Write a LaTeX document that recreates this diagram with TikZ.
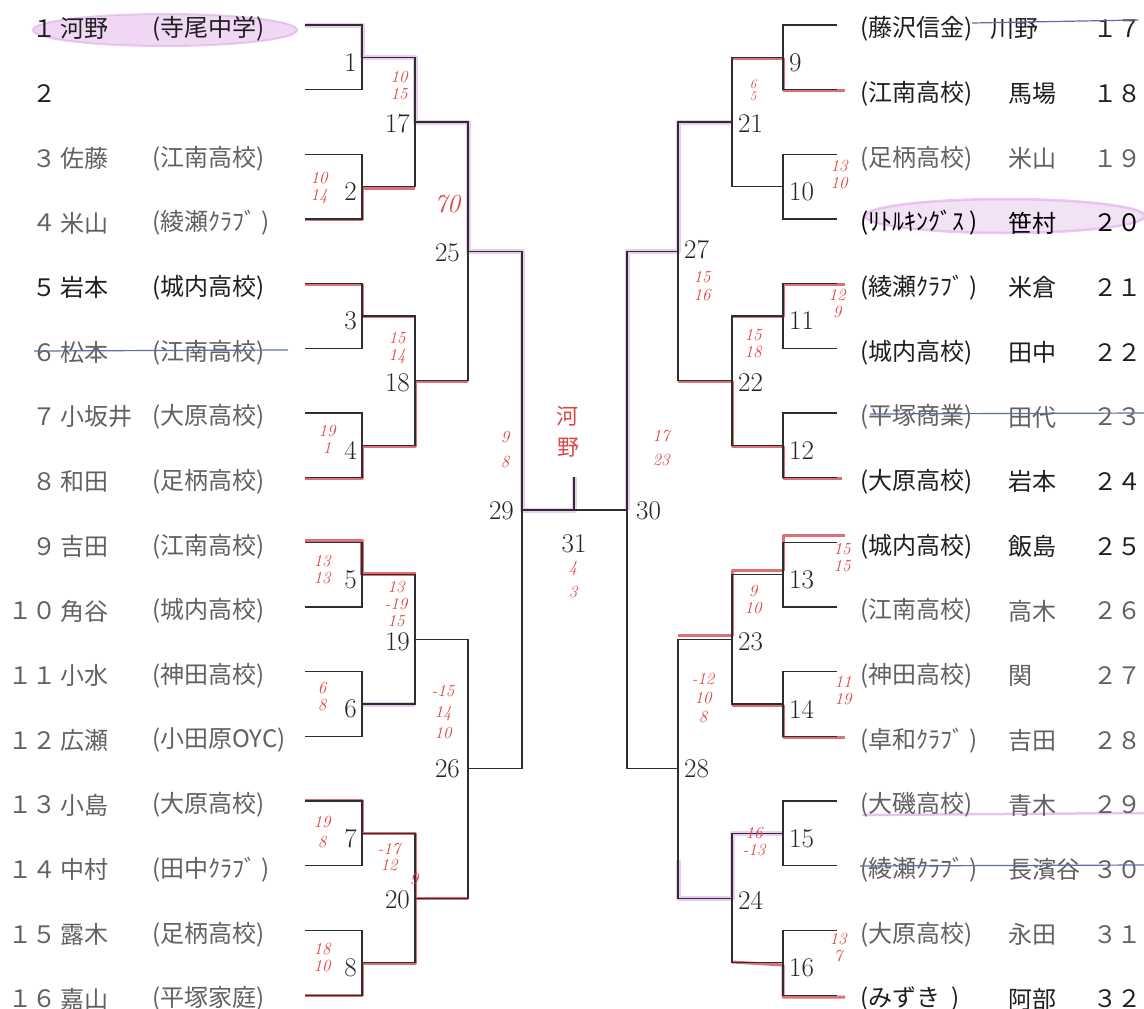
\documentclass[tikz,border=0pt]{standalone}
\usepackage{fontspec}
\newfontfamily\jp{Noto Sans CJK JP}
\definecolor{hlred}{RGB}{214,88,92}
\definecolor{hlpink}{RGB}{222,170,232}
\definecolor{annred}{RGB}{222,70,70}
\definecolor{strikeblue}{RGB}{95,110,165}
\colorlet{tA}{black!88}
\colorlet{tB}{black!62}
\begin{document}
\begin{tikzpicture}[x=1pt,y=-1pt,
  br/.style={line width=1.1pt, draw=black!82},
  redhl/.style={line width=3pt, draw=hlred, opacity=0.85, line join=round},
  pinkhl/.style={line width=5pt, draw=hlpink, opacity=0.6, line join=round},
  strike/.style={line width=1.2pt, draw=strikeblue},
  ann/.style={text=annred, inner sep=0pt, align=center},
  mnum/.style={font=\fontsize{27}{27}\selectfont, inner sep=0pt, text=black!85},
  jtxt/.style={font=\jp\fontsize{24}{24}\selectfont, inner sep=0pt},
]
\fill[white] (0,0) rectangle (1144,1009);
\useasboundingbox (0,0) rectangle (1144,1009);

% ---------- coordinates ----------
\foreach \i in {1,...,16} {
  \pgfmathsetmacro\yy{25+64.67*(\i-1)}
  \coordinate (la\i) at (305,\yy);
  \coordinate (ra\i) at (837,\yy);
}
\foreach \k in {1,...,8} {
  \pgfmathsetmacro\yy{25+64.67*(2*\k-1.5)}
  \coordinate (lm\k) at (362,\yy);
  \coordinate (rm\k) at (783,\yy);
}
\foreach \k in {1,...,4} {
  \pgfmathsetmacro\yy{25+64.67*(4*\k-2.5)}
  \coordinate (lr\k) at (415,\yy);
  \coordinate (rr\k) at (732,\yy);
}
\foreach \k in {1,2} {
  \pgfmathsetmacro\yy{25+64.67*(8*\k-4.5)}
  \coordinate (lq\k) at (468,\yy);
  \coordinate (rq\k) at (678,\yy);
}
\coordinate (fl) at (522,510);
\coordinate (fr) at (627,510);
\coordinate (fm) at (574,510);
\coordinate (win) at (574,477);

% ---------- highlighter marks ----------
\fill[hlpink, opacity=0.45] (165,30) ellipse [x radius=132, y radius=16];
\draw[hlpink, opacity=0.6, line width=2pt] (165,30) ellipse [x radius=132, y radius=16];
\fill[hlpink, opacity=0.35] (1005,216) ellipse [x radius=140, y radius=17];
\draw[hlpink, opacity=0.6, line width=2.5pt] (1005,216) ellipse [x radius=140, y radius=17];
\draw[hlpink, opacity=0.7, line width=2.5pt] (862,815) -- (1144,813);

\draw[pinkhl] (305,25) -- (362,25) -- (362,57) -- (415,57) -- (415,122) -- (468,122) -- (468,251) -- (522,251) -- (522,510) -- (574,510) -- (574,477);
\draw[pinkhl] (362,704) -- (415,704);
\draw[pinkhl] (732,122) -- (678,122) -- (678,251) -- (627,251) -- (627,510);
\draw[pinkhl] (783,833) -- (732,833) -- (732,898) -- (678,898) -- (678,860);

% ---------- red winner paths ----------
\draw[redhl] (305,219) -- (362,219) -- (362,188) -- (415,188);
\draw[redhl] (305,284) -- (362,284) -- (362,316) -- (415,316);
\draw[redhl] (305,478) -- (362,478) -- (362,446) -- (415,446) -- (415,381) -- (468,381);
\draw[redhl, line width=4pt] (305,541) -- (362,541) -- (362,574) -- (416,574);
\draw[redhl] (305,800) -- (362,800) -- (362,833) -- (415,833) -- (415,898) -- (468,898);
\draw[redhl] (305,995) -- (362,995) -- (362,963) -- (415,963) -- (415,898);
\draw[redhl] (845,90) -- (783,90) -- (783,58) -- (732,58);
\draw[redhl] (845,284) -- (783,284) -- (783,316) -- (732,316);
\draw[redhl] (842,478) -- (783,478) -- (783,446) -- (732,446) -- (732,381) -- (678,381);
\draw[redhl] (845,535) -- (783,535) -- (783,570) -- (732,570) -- (732,635) -- (678,635);
\draw[redhl] (845,737) -- (783,737) -- (783,705) -- (732,705);
\draw[redhl] (845,997) -- (783,997) -- (783,965) -- (732,962);

% ---------- bracket lines ----------
\foreach \k in {1,...,8} {
  \pgfmathtruncatemacro\a{2*\k-1}
  \pgfmathtruncatemacro\b{2*\k}
  \draw[br] (la\a) -| (lm\k);
  \draw[br] (la\b) -| (lm\k);
  \draw[br] (ra\a) -| (rm\k);
  \draw[br] (ra\b) -| (rm\k);
}
\foreach \k in {1,...,4} {
  \pgfmathtruncatemacro\a{2*\k-1}
  \pgfmathtruncatemacro\b{2*\k}
  \draw[br] (lm\a) -| (lr\k);
  \draw[br] (lm\b) -| (lr\k);
  \draw[br] (rm\a) -| (rr\k);
  \draw[br] (rm\b) -| (rr\k);
}
\foreach \k in {1,2} {
  \pgfmathtruncatemacro\a{2*\k-1}
  \pgfmathtruncatemacro\b{2*\k}
  \draw[br] (lr\a) -| (lq\k);
  \draw[br] (lr\b) -| (lq\k);
  \draw[br] (rr\a) -| (rq\k);
  \draw[br] (rr\b) -| (rq\k);
}
\draw[br] (lq1) -| (fl);
\draw[br] (lq2) -| (fl);
\draw[br] (rq1) -| (fr);
\draw[br] (rq2) -| (fr);
\draw[br] (fl) -- (fr);
\draw[br] (fm) -- (win);

% ---------- match numbers ----------
\foreach \k in {1,...,8} {
  \pgfmathsetmacro\yy{25+64.67*(2*\k-1.5)+5}
  \pgfmathtruncatemacro\rn{\k+8}
  \node[mnum, anchor=east] (nl\k) at (357,\yy) {\k};
  \node[mnum, anchor=west] (nr\k) at (789,\yy) {\rn};
}
\foreach \k in {1,...,4} {
  \pgfmathsetmacro\yy{25+64.67*(4*\k-2.5)+2}
  \pgfmathtruncatemacro\ln{\k+16}
  \pgfmathtruncatemacro\rn{\k+20}
  \node[mnum, anchor=east] (nl2\k) at (410,\yy) {\ln};
  \node[mnum, anchor=west] (nr2\k) at (738,\yy) {\rn};
}
\node[mnum, anchor=east] (n25) at (460,253) {25};
\node[mnum, anchor=east] (n26) at (460,769) {26};
\node[mnum, anchor=west] (n27) at (684,250) {27};
\node[mnum, anchor=west] (n28) at (684,769) {28};
\node[mnum, anchor=east] (n29) at (514,511) {29};
\node[mnum, anchor=west] (n30) at (636,511) {30};
\node[mnum] (n31) at (574,544) {31};

% ---------- left entries ----------
\foreach \i/\d/\nm/\sc/\c in {
  1/１/河野/(寺尾中学)/tA,
  2/２/{}/{}/tA,
  3/３/佐藤/(江南高校)/tB,
  4/４/米山/(綾瀬ｸﾗﾌﾞ )/tB,
  5/５/岩本/(城内高校)/tA,
  6/６/松本/(江南高校)/tB,
  7/７/小坂井/(大原高校)/tB,
  8/８/和田/(足柄高校)/tB,
  9/９/吉田/(江南高校)/tB,
  10/１０/角谷/(城内高校)/tB,
  11/１１/小水/(神田高校)/tB,
  12/１２/広瀬/(小田原OYC)/tB,
  13/１３/小島/(大原高校)/tB,
  14/１４/中村/(田中ｸﾗﾌﾞ )/tB,
  15/１５/露木/(足柄高校)/tB,
  16/１６/嘉山/(平塚家庭)/tB} {
  \pgfmathsetmacro\yy{25+64.67*(\i-1)+4}
  \node[jtxt, anchor=east, text=\c] (ld\i) at (57,\yy) {\d};
  \node[jtxt, anchor=west, text=\c] (lnm\i) at (60,\yy) {\nm};
  \node[jtxt, anchor=west, text=\c] (lsc\i) at (152,\yy) {\sc};
}

% ---------- right entries ----------
\foreach \i/\d/\nm/\sc/\c/\nx in {
  1/１７/川野/(藤沢信金)/tA/990,
  2/１８/馬場/(江南高校)/tA/1008,
  3/１９/米山/(足柄高校)/tB/1008,
  4/２０/笹村/(ﾘﾄﾙｷﾝｸﾞｽ )/black/1008,
  5/２１/米倉/(綾瀬ｸﾗﾌﾞ )/tA/1008,
  6/２２/田中/(城内高校)/tA/1008,
  7/２３/田代/(平塚商業)/tB/1008,
  8/２４/岩本/(大原高校)/tA/1008,
  9/２５/飯島/(城内高校)/tA/1008,
  10/２６/高木/(江南高校)/tB/1008,
  11/２７/関/(神田高校)/tB/1008,
  12/２８/吉田/(卓和ｸﾗﾌﾞ )/tB/1008,
  13/２９/青木/(大磯高校)/tB/1008,
  14/３０/長濱谷/(綾瀬ｸﾗﾌﾞ )/tB/1008,
  15/３１/永田/(大原高校)/tB/1008,
  16/３２/阿部/(みずき\ \ )/tA/1008} {
  \pgfmathsetmacro\yy{25+64.67*(\i-1)+4}
  \node[jtxt, anchor=west, text=\c] (rsc\i) at (860,\yy) {\sc};
  \node[jtxt, anchor=west, text=\c] (rnm\i) at (\nx,\yy) {\nm};
  \node[jtxt, anchor=east, text=\c] (rd\i) at (1142,\yy) {\d};
}

% ---------- strike-throughs ----------
\draw[strike] (34,351) -- (288,350);
\draw[strike] (972,23) -- (1138,20);
\draw[strike] (870,414) -- (1144,413);
\draw[strike] (860,866) -- (1144,865);

% ---------- handwritten scores (stacked groups) ----------
\foreach \x/\y/\s/\t [count=\k] in {
  399/86/17/10\\15,
  319/188/17/10\\14,
  397/348/17/15\\14,
  327/439/17/19\\1,
  322/570/17/13\\13,
  396/604/17/13\\-19\\15,
  322/697/17/6\\8,
  443/712/21/-15\\14\\10,
  322/832/20/19\\8,
  389/857/16/-17\\12,
  414/879/17/9,
  322/958/17/18\\10,
  505/450/25/9\\8,
  661/448/24/17\\23,
  573/580/25/4\\3,
  702/286/18/15\\16,
  839/175/17/13\\10,
  837/304/17/12\\9,
  753/344/17/15\\18,
  842/558/17/15\\15,
  753/600/17/9\\10,
  843/691/17/11\\19,
  703/698/19/-12\\10\\8,
  754/842/17/16\\-13,
  838/948/17/13\\7} {
  \node[ann, font=\fontsize{17}{\s}\selectfont\itshape] (ann\k) at (\x,\y) {\t};
}
\node[ann, font=\fontsize{13}{12}\selectfont\itshape] (ann21) at (753,90) {6\\5};
\node[ann, font=\fontsize{26}{26}\selectfont\itshape] (ann70) at (447,204) {70};
\node[text=annred, inner sep=0pt, font=\jp\fontsize{22}{22}\selectfont] (kono1) at (567,416) {河};
\node[text=annred, inner sep=0pt, font=\jp\fontsize{22}{22}\selectfont] (kono2) at (568,448) {野};
\end{tikzpicture}
\end{document}
